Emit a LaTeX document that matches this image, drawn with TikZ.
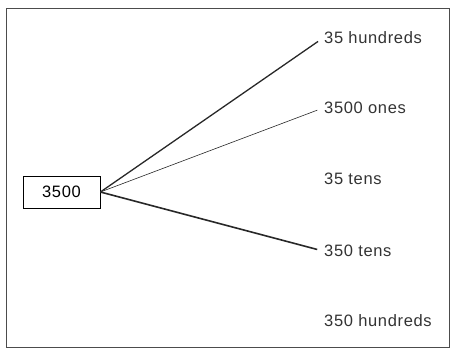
\documentclass[tikz,border=0pt]{standalone}
\usepackage{fontspec}
\setmainfont{Liberation Sans}[LetterSpace=4]
\definecolor{lineGrey}{RGB}{40, 40, 40}

\begin{document}
\begin{tikzpicture}[x=1pt, y=-1pt]
            \useasboundingbox (0,0) rectangle (452,348);
            \draw[line width=0.8pt, black!70] (6,8) rectangle (449,347);
            \tikzset{numbox/.style={draw, line width=0.8pt, minimum width=77pt, minimum height=32pt, font=\fontsize{16.5}{19}\selectfont},
                     choice/.style={anchor=west, inner sep=1pt, font=\fontsize{16.5}{19}\selectfont, text=black!80}}
            \node[numbox] (num) at (61.5,192) {3500};
            \node[choice] (hund) at (323,38) {35 hundreds};
            \node[choice] (ones) at (323,108) {3500 ones};
            \node[choice] (tens) at (323,179) {35 tens};
            \node[choice] (tenz) at (323,251) {350 tens};
            \node[choice] (hunz) at (323,321) {350 hundreds};
            \draw[line width=1.3pt, lineGrey, shorten >=6pt] (num.east) -- (hund.west);
            \draw[line width=0.6pt, lineGrey, shorten >=6pt] (num.east) -- (ones.west);
            \draw[line width=1.6pt, lineGrey, shorten >=6pt] (num.east) -- (tenz.west);
        \end{tikzpicture}
\end{document}
